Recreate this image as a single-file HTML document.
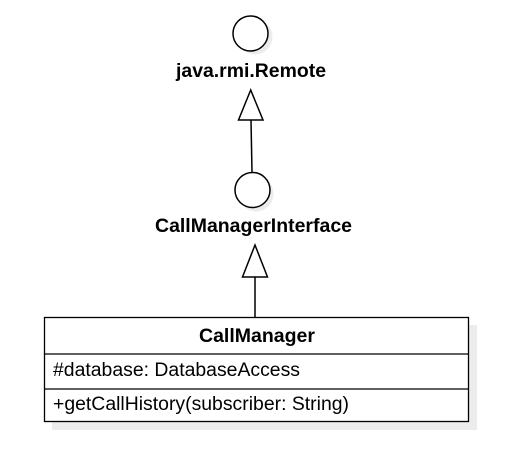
<!DOCTYPE html>
<html><head><meta charset="utf-8"><style>
html,body{margin:0;padding:0;background:#fff;}
svg{display:block;}
text{font-family:"Liberation Sans",Arial,sans-serif;fill:#000;}
</style></head><body>
<svg width="513" height="451" viewBox="0 0 513 451" xmlns="http://www.w3.org/2000/svg">
  <circle cx="255" cy="37" r="17.5" fill="#ececec"/>
  <circle cx="256" cy="194" r="17.5" fill="#ececec"/>
  <rect x="52" y="325" width="425" height="105" fill="#ececec"/>
  <circle cx="250.5" cy="33.5" r="17.5" fill="#fff" stroke="#000" stroke-width="1.5"/>
  <text x="176" y="77" font-size="19" font-weight="bold" textLength="150" lengthAdjust="spacingAndGlyphs">java.rmi.Remote</text>
  <line x1="251" y1="120" x2="252" y2="172" stroke="#000" stroke-width="1.5"/>
  <polygon points="250.7,90 238.5,120 263,120" fill="#fff" stroke="#000" stroke-width="1.5"/>
  <circle cx="252.5" cy="190" r="17.5" fill="#fff" stroke="#000" stroke-width="1.5"/>
  <text x="155" y="232" font-size="19" font-weight="bold" textLength="197" lengthAdjust="spacingAndGlyphs">CallManagerInterface</text>
  <line x1="255" y1="277" x2="255" y2="317" stroke="#000" stroke-width="1.5"/>
  <polygon points="255,245 242.5,277 267.5,277" fill="#fff" stroke="#000" stroke-width="1.5"/>
  <rect x="44.5" y="317.5" width="424" height="104" fill="#fff" stroke="#000" stroke-width="1.3"/>
  <line x1="44.5" y1="354" x2="468.5" y2="354" stroke="#000" stroke-width="1.3"/>
  <line x1="44.5" y1="389" x2="468.5" y2="389" stroke="#000" stroke-width="1.3"/>
  <text x="199" y="342" font-size="19" font-weight="bold" textLength="116" lengthAdjust="spacingAndGlyphs">CallManager</text>
  <text x="53" y="376" font-size="19" textLength="247" lengthAdjust="spacingAndGlyphs">#database: DatabaseAccess</text>
  <text x="53" y="410" font-size="19" textLength="296" lengthAdjust="spacingAndGlyphs">+getCallHistory(subscriber: String)</text>
</svg>
</body></html>
